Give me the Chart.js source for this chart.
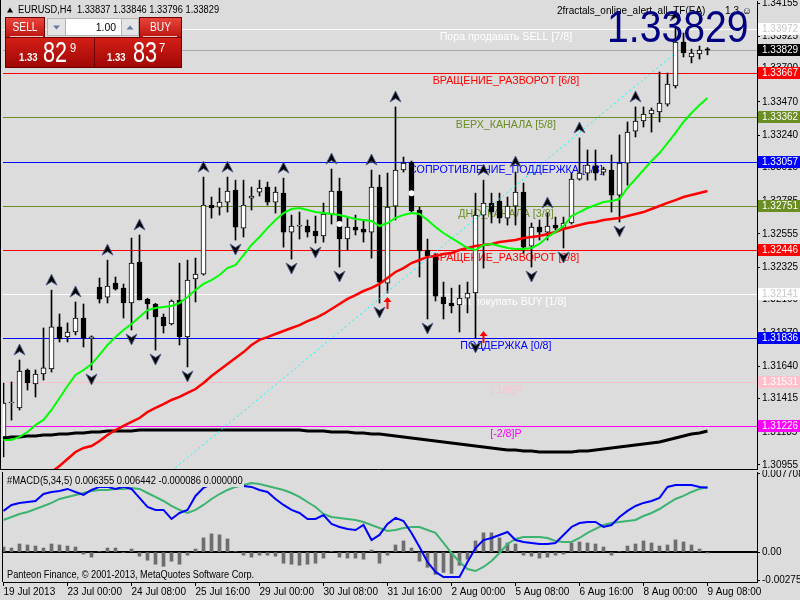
<!DOCTYPE html>
<html lang="ru">
<head>
    <meta charset="UTF-8">
    <meta name="viewport" content="width=device-width, initial-scale=1.0">
    <title>EURUSD,H4</title>
    <style>
      body { margin: 0; background: #dcdcdc; }
      #tela { position: relative; width: 800px; height: 600px; overflow: hidden; background: #dcdcdc; }
      canvas { position: absolute; left: 0; }
    </style>
</head>
<body>
    <div id="tela">
        <canvas id="grafico1" width="800" height="470" style="top:0;width:800px;height:470px;"></canvas>
        <canvas id="grafico2" width="800" height="130" style="top:470px;width:800px;height:130px;"></canvas>
    </div>
    <script src="https://cdn.jsdelivr.net/npm/chart.js"></script>
    <script>
      // eixo do tempo (barras H4)
      const rotulosX = ['19 Jul 2013', '23 Jul 00:00', '24 Jul 08:00', '25 Jul 16:00', '29 Jul 00:00', '30 Jul 08:00',
                        '31 Jul 16:00', '2 Aug 00:00', '5 Aug 08:00', '6 Aug 16:00', '8 Aug 00:00', '9 Aug 08:00'];
      const barrasX = [0, 8, 16, 24, 32, 40, 48, 56, 64, 72, 80, 88];

      // velas
      const abertura = [1.31149,1.31384,1.31350,1.31613,1.31516,1.31585,1.31620,1.31911,1.31842,1.31876,
        1.31973,1.31828,1.32187,1.32118,1.32215,1.32180,1.32077,1.32360,1.32104,1.32070,
        1.31980,1.31932,1.32098,1.31842,1.32243,1.32277,1.32755,1.32741,1.32776,1.32859,
        1.32596,1.32804,1.32845,1.32880,1.32776,1.32838,1.32568,1.32610,1.32610,1.32575,
        1.32541,1.32693,1.32852,1.32520,1.32603,1.32589,1.32568,1.32880,1.32215,1.32748,
        1.32998,1.33053,1.32721,1.32444,1.32409,1.32118,1.32077,1.32063,1.32111,1.32146,
        1.32686,1.32769,1.32783,1.32665,1.32748,1.32845,1.32471,1.32603,1.32568,1.32617,
        1.32596,1.32631,1.32935,1.32977,1.33025,1.32984,1.32998,1.32824,1.33046,1.33268,
        1.33338,1.33386,1.33400,1.33455,1.33580,1.33885,1.33781,1.33802,1.33837];
      const maxima = [1.31523,1.31530,1.31682,1.31620,1.31613,1.31904,1.32166,1.32001,1.31939,1.32084,
        1.32070,1.31849,1.32250,1.32374,1.32257,1.32208,1.32527,1.32548,1.32110,1.32075,
        1.32001,1.32098,1.32353,1.32374,1.32388,1.32949,1.32811,1.32873,1.32949,1.32928,
        1.32928,1.32880,1.32928,1.32915,1.32880,1.32942,1.32686,1.32707,1.32652,1.32679,
        1.32769,1.33005,1.32942,1.32665,1.32686,1.32652,1.32998,1.32963,1.32977,1.33435,
        1.33088,1.33060,1.32741,1.32520,1.32415,1.32222,1.32180,1.32201,1.32222,1.32838,
        1.32928,1.32838,1.32838,1.32811,1.32984,1.32908,1.32631,1.32652,1.32700,1.32672,
        1.32672,1.32977,1.33220,1.33137,1.33137,1.33018,1.33102,1.33241,1.33331,1.33435,
        1.33435,1.33428,1.33677,1.33670,1.33996,1.33947,1.33836,1.33857,1.33846];
      const minima = [1.31010,1.31266,1.31336,1.31474,1.31426,1.31543,1.31599,1.31807,1.31807,1.31856,
        1.31772,1.31613,1.32077,1.32077,1.32166,1.31973,1.31890,1.32098,1.31966,1.31751,
        1.31869,1.31925,1.31786,1.31634,1.32084,1.32270,1.32665,1.32686,1.32707,1.32513,
        1.32534,1.32721,1.32818,1.32755,1.32700,1.32464,1.32381,1.32520,1.32534,1.32492,
        1.32499,1.32624,1.32326,1.32444,1.32548,1.32499,1.32388,1.32077,1.32146,1.32652,
        1.32984,1.32707,1.32257,1.31966,1.32091,1.31966,1.32008,1.31876,1.32008,1.31835,
        1.32319,1.32631,1.32631,1.32617,1.32617,1.32423,1.32326,1.32513,1.32513,1.32582,
        1.32458,1.32624,1.32928,1.32928,1.32928,1.32963,1.32707,1.32638,1.32894,1.33227,
        1.33296,1.33261,1.33331,1.33441,1.33566,1.33781,1.33740,1.33767,1.33796];
      const fechamento = [1.31384,1.31391,1.31606,1.31523,1.31585,1.31627,1.31911,1.31828,1.31876,1.31973,
        1.31835,1.31842,1.32104,1.32194,1.32173,1.32077,1.32353,1.32098,1.32070,1.31980,
        1.31918,1.32091,1.31842,1.32236,1.32277,1.32755,1.32735,1.32776,1.32852,1.32603,
        1.32755,1.32818,1.32873,1.32776,1.32845,1.32568,1.32610,1.32617,1.32568,1.32541,
        1.32693,1.32852,1.32520,1.32603,1.32582,1.32568,1.32880,1.32222,1.32741,1.32998,
        1.33046,1.32714,1.32437,1.32402,1.32125,1.32070,1.32056,1.32111,1.32146,1.32686,
        1.32769,1.32707,1.32665,1.32748,1.32845,1.32464,1.32603,1.32568,1.32610,1.32596,
        1.32631,1.32935,1.32977,1.33032,1.32977,1.33005,1.32824,1.33046,1.33261,1.33338,
        1.33386,1.33414,1.33462,1.33594,1.33885,1.33809,1.33809,1.33829,1.33829];

      // medias
      const mediaVerde = [1.31128,1.31128,1.31149,1.31183,1.31232,1.31267,1.31336,1.31419,1.31502,1.31578,
        1.31613,1.31654,1.31717,1.31786,1.31841,1.31890,1.31931,1.31980,1.32028,1.32042,
        1.32049,1.32056,1.32077,1.32119,1.32167,1.32209,1.32236,1.32271,1.32319,1.32340,
        1.32409,1.32479,1.32534,1.32596,1.32652,1.32700,1.32728,1.32735,1.32721,1.32707,
        1.32700,1.32693,1.32687,1.32673,1.32659,1.32652,1.32645,1.32610,1.32631,1.32666,
        1.32687,1.32700,1.32693,1.32652,1.32603,1.32562,1.32527,1.32493,1.32458,1.32444,
        1.32479,1.32486,1.32472,1.32458,1.32451,1.32451,1.32458,1.32486,1.32534,1.32569,
        1.32610,1.32680,1.32707,1.32735,1.32756,1.32777,1.32783,1.32797,1.32874,1.32936,
        1.32998,1.33061,1.33116,1.33185,1.33255,1.33331,1.33393,1.33448,1.33497];
      const mediaVermelha = [1.30574,1.30643,1.30712,1.30768,1.30816,1.30865,1.30906,1.30948,1.30996,1.31045,
        1.31073,1.31086,1.31121,1.31163,1.31197,1.31225,1.31253,1.31280,1.31322,1.31350,
        1.31377,1.31405,1.31426,1.31454,1.31481,1.31523,1.31571,1.31613,1.31654,1.31696,
        1.31737,1.31786,1.31821,1.31841,1.31862,1.31883,1.31904,1.31924,1.31952,1.31973,
        1.32001,1.32035,1.32070,1.32105,1.32132,1.32160,1.32181,1.32209,1.32250,1.32292,
        1.32319,1.32354,1.32375,1.32396,1.32403,1.32416,1.32423,1.32444,1.32458,1.32472,
        1.32479,1.32486,1.32500,1.32506,1.32513,1.32527,1.32534,1.32541,1.32555,1.32569,
        1.32590,1.32603,1.32617,1.32631,1.32638,1.32652,1.32659,1.32666,1.32680,1.32693,
        1.32707,1.32728,1.32749,1.32770,1.32790,1.32811,1.32825,1.32839,1.32853];
      const mediaPreta = [1.31142,1.31149,1.31149,1.31156,1.31156,1.31163,1.31163,1.31169,1.31169,1.31176,
        1.31176,1.31183,1.31183,1.31190,1.31190,1.31190,1.31190,1.31197,1.31197,1.31197,
        1.31197,1.31197,1.31197,1.31197,1.31197,1.31197,1.31197,1.31197,1.31197,1.31197,
        1.31197,1.31197,1.31197,1.31197,1.31197,1.31197,1.31197,1.31197,1.31190,1.31190,
        1.31190,1.31183,1.31183,1.31183,1.31176,1.31176,1.31169,1.31169,1.31163,1.31156,
        1.31149,1.31142,1.31135,1.31128,1.31121,1.31114,1.31107,1.31100,1.31093,1.31086,
        1.31080,1.31073,1.31066,1.31059,1.31059,1.31052,1.31052,1.31045,1.31045,1.31045,
        1.31045,1.31045,1.31052,1.31052,1.31059,1.31066,1.31073,1.31080,1.31086,1.31093,
        1.31100,1.31107,1.31114,1.31128,1.31142,1.31156,1.31169,1.31176,1.31190];

      // fractais, sinais e objetos
      const fractaisCima = [2, 6, 9, 13, 17, 25, 28, 35, 41, 46, 49, 60, 64, 68, 72, 79, 84];
      const fractaisBaixo = [11, 16, 19, 23, 29, 36, 39, 42, 47, 53, 59, 66, 70, 77];
      const sinaisBarra = [48, 60];
      const sinaisValor = [1.32077, 1.31842];
      const pontosBarra = [42, 51];
      const pontosValor = [1.32624, 1.32838];
      const tendBarra = [21, 84];
      const tendValor = [1.30913, 1.33809];

      // niveis Murrey
      const niveis = [1.33972, 1.33667, 1.33362, 1.33057, 1.32751, 1.32446, 1.32141, 1.31836, 1.31531, 1.31226];
      const nomesNiveis = ['Пора продавать SELL [7/8]', 'ВРАЩЕНИЕ_РАЗВОРОТ [6/8]', 'ВЕРХ_КАНАЛА [5/8]',
        'СОПРОТИВЛЕНИЕ_ПОДДЕРЖКА [4/8]', 'ДНО_КАНАЛА [3/8]', 'ВРАЩЕНИЕ_РАЗВОРОТ [2/8]',
        'Пора покупать BUY [1/8]', 'ПОДДЕРЖКА [0/8]', '[-1/8]P', '[-2/8]P'];
      const coresNiveis = ['#ffffff', '#ff0000', '#6b8e23', '#0000ff', '#6b8e23', '#ff0000', '#ffffff', '#0000ff', '#ffc0cb', '#ff00ff'];
      const bid = 1.33829;
      const ask = 1.33837;

      const valoresY = [1.34155, 1.33925, 1.33700, 1.33470, 1.33240, 1.33015, 1.32785, 1.32555,
                        1.32325, 1.32100, 1.31870, 1.31640, 1.31415, 1.31185, 1.30955];
      const rotulosY = valoresY.map(v => v.toFixed(5));

      // MACD
      const macdPrincipal = [0.00406,0.00465,0.00485,0.00494,0.00504,0.00573,0.00593,0.00603,0.00623,0.00593,
        0.00564,0.00613,0.00643,0.00643,0.00623,0.00643,0.00623,0.00534,0.00445,0.00416,
        0.00416,0.00327,0.00386,0.00416,0.00554,0.00633,0.00672,0.00692,0.00682,0.00652,
        0.00652,0.00643,0.00613,0.00593,0.00524,0.00465,0.00416,0.00386,0.00327,0.00327,
        0.00366,0.00277,0.00248,0.00228,0.00218,0.00267,0.00119,0.00169,0.00277,0.00337,
        0.00307,0.00189,0.00050,-0.00098,-0.00196,-0.00246,-0.00246,-0.00246,-0.00098,0.00040,
        0.00119,0.00139,0.00169,0.00198,0.00119,0.00100,0.00090,0.00080,0.00080,0.00090,
        0.00169,0.00248,0.00287,0.00297,0.00297,0.00248,0.00267,0.00346,0.00406,0.00455,
        0.00485,0.00504,0.00534,0.00643,0.00662,0.00662,0.00662,0.00643,0.006355];
      const macdSinal = [0.00317,0.00346,0.00376,0.00396,0.00425,0.00455,0.00485,0.00524,0.00544,0.00564,
        0.00583,0.00603,0.00613,0.00613,0.00623,0.00623,0.00633,0.00623,0.00583,0.00544,
        0.00504,0.00455,0.00416,0.00386,0.00416,0.00465,0.00524,0.00573,0.00613,0.00643,
        0.00662,0.00682,0.00672,0.00652,0.00633,0.00613,0.00583,0.00544,0.00494,0.00445,
        0.00376,0.00346,0.00337,0.00327,0.00317,0.00297,0.00267,0.00238,0.00208,0.00218,
        0.00238,0.00248,0.00248,0.00218,0.00189,0.00090,-0.00009,-0.00098,-0.00167,-0.00187,
        -0.00147,-0.00088,-0.00009,0.00080,0.00129,0.00149,0.00149,0.00149,0.00139,0.00110,
        0.00100,0.00100,0.00139,0.00189,0.00228,0.00267,0.00287,0.00297,0.00307,0.00317,
        0.00356,0.00386,0.00425,0.00475,0.00524,0.00554,0.00593,0.00623,0.006442];
      const macdHist = [0.0005,0.0004,0.0008,0.0007,0.0006,0.0004,0.0008,0.0007,0.0006,0.0005,
        -0.0002,-0.0005,0.00005,0.0004,0.0004,-0.00005,0.0003,-0.0004,-0.0008,-0.0012,
        -0.0014,-0.0009,-0.0012,-0.0003,0.0003,0.0014,0.0018,0.0017,0.0013,0.00005,
        -0.0003,-0.0005,-0.0003,-0.0003,-0.0004,-0.0011,-0.0012,-0.0013,-0.0012,-0.0011,
        -0.0006,0.00005,-0.0005,-0.0006,-0.0006,-0.0007,0.0002,-0.0011,-0.0003,0.0007,
        0.0011,0.0004,-0.0009,-0.0015,-0.0022,-0.0020,-0.0021,-0.0013,-0.0007,0.0011,
        0.0019,0.0019,0.0014,0.0009,0.0008,-0.0003,-0.0004,-0.0006,-0.0005,-0.0003,
        -0.0002,0.0009,0.0010,0.0009,0.0008,0.0005,-0.0003,0.00005,0.0006,0.0008,
        0.0011,0.0009,0.0006,0.0007,0.0012,0.0010,0.0007,0.0003,-0.000086];
      const valoresMacd = [0.007708, 0, -0.002753];
      const rotulosMacd = ['0.007708', '0.00', '-0.002753'];

      // faixas dos eixos
      const xMin = -0.0625, xMax = 94.1875;
      const yMin = 1.30927, yMax = 1.34169;
      const macdMin = -0.00295, macdMax = 0.00790;

      const fonte = '"Liberation Sans", Arial, sans-serif';
      Chart.defaults.font.family = fonte;
      Chart.defaults.font.size = 10;
      Chart.defaults.color = '#000';

      const idx = abertura.map((_, i) => i);
      const ult = idx.length - 1;

      function texto(ctx, s, x, y, f, cor, alinhar, escala, base) {
        ctx.save();
        ctx.font = f;
        ctx.fillStyle = cor;
        ctx.textAlign = alinhar || 'left';
        ctx.textBaseline = base || 'middle';
        ctx.translate(x, y);
        ctx.scale(escala || 1, 1);
        ctx.fillText(s, 0, 0);
        ctx.restore();
      }

      function seta(ctx, x, y, cima) {
        const d = cima ? 1 : -1;
        ctx.beginPath();
        ctx.moveTo(x, y - 6 * d);
        ctx.lineTo(x + 5.5, y + 5 * d);
        ctx.lineTo(x, y + 1.5 * d);
        ctx.lineTo(x - 5.5, y + 5 * d);
        ctx.closePath();
        ctx.fillStyle = '#000';
        ctx.fill();
        ctx.strokeStyle = 'rgba(80,95,140,0.9)';
        ctx.lineWidth = 1;
        ctx.stroke();
      }

      function painel(ctx) {
        const grad = (y0, h, c1, c2) => {
          const g = ctx.createLinearGradient(0, y0, 0, y0 + h);
          g.addColorStop(0, c1); g.addColorStop(1, c2);
          return g;
        };
        ctx.save();
        ctx.strokeStyle = '#6a0000';
        ctx.lineWidth = 1;
        // botoes
        [[6, 18, 38, 20], [140, 18, 41, 20]].forEach(([bx, by, bw, bh]) => {
          ctx.fillStyle = grad(by, bh, '#e8443c', '#bd130e');
          ctx.fillRect(bx, by, bw, bh);
          ctx.strokeRect(bx - 0.5, by - 0.5, bw + 1, bh + 1);
        });
        // caixas de preco
        [[6, 38, 88, 29], [95, 38, 86, 29]].forEach(([bx, by, bw, bh]) => {
          ctx.fillStyle = grad(by, bh, '#d41e16', '#a00805');
          ctx.fillRect(bx, by, bw, bh);
          ctx.strokeRect(bx - 0.5, by - 0.5, bw + 1, bh + 1);
        });
        ctx.strokeStyle = 'rgba(255,255,255,0.75)';
        ctx.beginPath();
        ctx.moveTo(10, 36.5); ctx.lineTo(43, 36.5);
        ctx.moveTo(143, 36.5); ctx.lineTo(177, 36.5);
        ctx.stroke();
        // lote
        ctx.fillStyle = '#b4b4b4'; ctx.fillRect(47, 18, 92, 18);
        ctx.fillStyle = '#e4e4e4'; ctx.fillRect(48, 19, 17, 16); ctx.fillRect(122, 19, 16, 16);
        ctx.fillStyle = '#ffffff'; ctx.fillRect(66, 19, 55, 16);
        ctx.fillStyle = '#6878a4';
        ctx.beginPath(); ctx.moveTo(53, 25.5); ctx.lineTo(60, 25.5); ctx.lineTo(56.5, 29.5); ctx.closePath(); ctx.fill();
        ctx.beginPath(); ctx.moveTo(126.5, 29.5); ctx.lineTo(133.5, 29.5); ctx.lineTo(130, 25.5); ctx.closePath(); ctx.fill();
        texto(ctx, '1.00', 116, 27.5, '11px ' + fonte, '#000', 'right', 0.95);
        texto(ctx, 'SELL', 25, 28, '12px ' + fonte, '#fff', 'center', 0.85);
        texto(ctx, 'BUY', 160.5, 28, '12px ' + fonte, '#fff', 'center', 0.85);
        // precos
        const pb = bid.toFixed(5), pa = ask.toFixed(5);
        [[pb, 19, 43, 70], [pa, 107, 133, 159]].forEach(([p, x1, x2, x3]) => {
          texto(ctx, p.slice(0, 4), x1, 61, 'bold 10px ' + fonte, '#fff', 'left', 0.95, 'alphabetic');
          texto(ctx, p.slice(4, 6), x2, 62, '30px ' + fonte, '#fff', 'left', 0.72, 'alphabetic');
          texto(ctx, p.slice(6), x3, 52, '13px ' + fonte, '#fff', 'left', 0.85, 'alphabetic');
        });
        ctx.restore();
      }

      const desenhosPrincipal = {
        id: 'desenhosPrincipal',
        beforeDatasetsDraw(chart) {
          const { ctx, chartArea: a, scales: { x, y } } = chart;
          ctx.save();
          ctx.lineWidth = 1;
          niveis.forEach((v, k) => {
            const py = Math.round(y.getPixelForValue(v)) + 0.5;
            ctx.strokeStyle = coresNiveis[k];
            ctx.beginPath(); ctx.moveTo(a.left, py); ctx.lineTo(a.right, py); ctx.stroke();
          });
          const pb = Math.round(y.getPixelForValue(bid)) + 0.5;
          ctx.strokeStyle = '#a8a8a8';
          ctx.beginPath(); ctx.moveTo(a.left, pb); ctx.lineTo(a.right, pb); ctx.stroke();
          const lx = x.getPixelForValue(62.8);
          niveis.forEach((v, k) => {
            const py = Math.round(y.getPixelForValue(v));
            texto(ctx, nomesNiveis[k], lx, py + 8, '11px ' + fonte, coresNiveis[k], 'center', 0.97);
          });
          ctx.restore();
        },
        afterDatasetsDraw(chart) {
          const { ctx, scales: { x, y } } = chart;
          ctx.save();
          fractaisCima.forEach(i => seta(ctx, x.getPixelForValue(i), y.getPixelForValue(maxima[i]) - 10, true));
          fractaisBaixo.forEach(i => seta(ctx, x.getPixelForValue(i), y.getPixelForValue(minima[i]) + 9, false));
          // sinais vermelhos
          sinaisBarra.forEach((b, k) => {
            const px = x.getPixelForValue(b), py = y.getPixelForValue(sinaisValor[k]);
            ctx.strokeStyle = '#ff0000'; ctx.fillStyle = '#ff0000'; ctx.lineWidth = 2;
            ctx.beginPath(); ctx.moveTo(px, py + 6); ctx.lineTo(px, py - 2); ctx.stroke();
            ctx.beginPath(); ctx.moveTo(px - 4, py - 1); ctx.lineTo(px, py - 6); ctx.lineTo(px + 4, py - 1); ctx.closePath(); ctx.fill();
          });
          pontosBarra.forEach((b, k) => {
            ctx.fillStyle = '#ffffff';
            ctx.beginPath();
            ctx.arc(x.getPixelForValue(b), y.getPixelForValue(pontosValor[k]), 3, 0, Math.PI * 2);
            ctx.fill();
          });
          ctx.restore();
        },
        afterDraw(chart) {
          const { ctx, chartArea: a, scales: { y } } = chart;
          ctx.save();
          // etiquetas de preco no eixo
          const caixa = (v, fundo, cor) => {
            const py = Math.round(y.getPixelForValue(v));
            ctx.fillStyle = fundo;
            ctx.fillRect(a.right + 1, py - 6, 42, 12);
            texto(ctx, v.toFixed(5), a.right + 5, py + 0.5, '10px ' + fonte, cor);
          };
          niveis.forEach((v, k) => {
            const c = coresNiveis[k];
            caixa(v, c, c === '#ffffff' ? '#c8c8c8' : '#ffffff');
          });
          caixa(bid, '#000000', '#ffffff');
          // bordas
          ctx.strokeStyle = '#000'; ctx.lineWidth = 1;
          ctx.beginPath();
          ctx.moveTo(0.5, 0); ctx.lineTo(0.5, a.bottom + 1);
          ctx.moveTo(0, a.bottom + 0.5); ctx.lineTo(a.right, a.bottom + 0.5);
          ctx.stroke();
          // cabecalho
          ctx.fillStyle = '#000';
          ctx.beginPath(); ctx.moveTo(7, 12.5); ctx.lineTo(10, 7.5); ctx.lineTo(13, 12.5); ctx.closePath(); ctx.fill();
          const ohlc = [abertura[ult], maxima[ult], minima[ult], fechamento[ult]].map(v => v.toFixed(5)).join(' ');
          texto(ctx, 'EURUSD,H4  ' + ohlc, 18, 10.5, '10px ' + fonte, '#000', 'left', 0.93);
          texto(ctx, '2fractals_online_alert_all_TF(EA)', 557, 11, '10px ' + fonte, '#000');
          texto(ctx, '1.3 ☺', 752, 11, '10px ' + fonte + ', "DejaVu Sans"', '#000', 'right');
          texto(ctx, fechamento[ult].toFixed(5), 607, 42, '45px ' + fonte, '#000080', 'left', 0.87, 'alphabetic');
          painel(ctx);
          ctx.restore();
        }
      };

      const grafico1 = new Chart(document.getElementById('grafico1'), {
        type: 'bar',
        data: {
          datasets: [
            { type: 'bar', data: idx.map(i => ({ x: i, y: [minima[i], maxima[i]] })), backgroundColor: '#000',
              barThickness: 1, grouped: false, order: 10 },
            { type: 'bar', data: idx.map(i => ({ x: i, y: [abertura[i], fechamento[i]] })),
              backgroundColor: idx.map(i => fechamento[i] >= abertura[i] ? '#ffffff' : '#000000'),
              borderColor: '#000', borderWidth: 1, borderSkipped: false, barThickness: 5, grouped: false,
              minBarLength: 1, order: 9 },
            { type: 'line', data: idx.map(i => ({ x: i, y: mediaPreta[i] })), borderColor: '#000',
              borderWidth: 3, pointRadius: 0, order: 6 },
            { type: 'line', data: idx.map(i => ({ x: i, y: mediaVermelha[i] })), borderColor: '#ff0000',
              borderWidth: 2.5, pointRadius: 0, order: 5 },
            { type: 'line', data: idx.map(i => ({ x: i, y: mediaVerde[i] })), borderColor: '#00ff00',
              borderWidth: 2, pointRadius: 0, order: 4 },
            { type: 'line', data: tendBarra.map((b, k) => ({ x: b, y: tendValor[k] })), borderColor: '#00ffff',
              borderWidth: 1, borderDash: [2, 3], pointRadius: 0, order: 3 }
          ]
        },
        options: {
          responsive: false,
          animation: false,
          devicePixelRatio: 1,
          layout: { padding: { left: 3, top: 1, right: 0, bottom: 1 }, autoPadding: false },
          plugins: { legend: { display: false }, tooltip: { enabled: false } },
          scales: {
            x: { type: 'linear', min: xMin, max: xMax, offset: false, display: false },
            y: {
              position: 'right', min: yMin, max: yMax,
              afterBuildTicks: s => { s.ticks = valoresY.map(v => ({ value: v })); },
              afterFit: s => { s.width = 43; s.paddingTop = 0; s.paddingBottom = 0; },
              ticks: { color: '#000', padding: 2, autoSkip: false, callback: (v, k) => rotulosY[k] },
              grid: { drawOnChartArea: false, tickLength: 3, color: '#000' },
              border: { color: '#000' }
            }
          }
        },
        plugins: [desenhosPrincipal]
      });

      const desenhosMacd = {
        id: 'desenhosMacd',
        beforeDatasetsDraw(chart) {
          const { ctx, chartArea: a, scales: { y } } = chart;
          const pz = Math.round(y.getPixelForValue(0));
          ctx.save();
          ctx.fillStyle = '#000';
          ctx.fillRect(a.left, pz - 1, a.right - a.left, 2);
          ctx.restore();
        },
        afterDraw(chart) {
          const { ctx, chartArea: a } = chart;
          ctx.save();
          ctx.fillStyle = '#dcdcdc';
          ctx.fillRect(5, 5, 239, 12);
          const cab = '#MACD(5,34,5) ' + macdPrincipal[ult].toFixed(6) + ' ' + macdSinal[ult].toFixed(6) + ' ' +
                      macdHist[ult].toFixed(6) + ' 0.000000';
          texto(ctx, cab, 7, 11, '10px ' + fonte, '#000', 'left', 0.94);
          texto(ctx, 'Panteon Finance, © 2001-2013, MetaQuotes Software Corp.', 7, 105, '10px ' + fonte, '#000', 'left', 0.92);
          ctx.strokeStyle = '#000'; ctx.lineWidth = 1;
          ctx.beginPath(); ctx.moveTo(2.5, a.top); ctx.lineTo(2.5, a.bottom); ctx.stroke();
          ctx.restore();
        }
      };

      const grafico2 = new Chart(document.getElementById('grafico2'), {
        type: 'bar',
        data: {
          datasets: [
            { type: 'bar', data: idx.map(i => ({ x: i, y: macdHist[i] })), backgroundColor: '#6e6e6e',
              barThickness: 3, grouped: false, order: 3 },
            { type: 'line', data: idx.map(i => ({ x: i, y: macdSinal[i] })), borderColor: '#3cb371',
              borderWidth: 2, pointRadius: 0, order: 2 },
            { type: 'line', data: idx.map(i => ({ x: i, y: macdPrincipal[i] })), borderColor: '#0000ff',
              borderWidth: 2, pointRadius: 0, order: 1 }
          ]
        },
        options: {
          responsive: false,
          animation: false,
          devicePixelRatio: 1,
          layout: { padding: { left: 3, top: 2, right: 0, bottom: 0 }, autoPadding: false },
          plugins: { legend: { display: false }, tooltip: { enabled: false } },
          scales: {
            x: {
              type: 'linear', min: xMin, max: xMax, offset: false,
              afterBuildTicks: s => { s.ticks = barrasX.map(v => ({ value: v })); },
              afterFit: s => { s.height = 18; s.paddingLeft = 0; s.paddingRight = 0; },
              ticks: { color: '#000', align: 'start', maxRotation: 0, autoSkip: false, padding: 0,
                       callback: (v, k) => rotulosX[k] },
              grid: { drawOnChartArea: false, tickLength: 4, color: '#000', offset: false },
              border: { color: '#000' }
            },
            y: {
              position: 'right', min: macdMin, max: macdMax,
              afterBuildTicks: s => { s.ticks = valoresMacd.map(v => ({ value: v })); },
              afterFit: s => { s.width = 43; s.paddingTop = 0; s.paddingBottom = 0; },
              ticks: { color: '#000', padding: 2, autoSkip: false, callback: (v, k) => rotulosMacd[k] },
              grid: { drawOnChartArea: false, tickLength: 3, color: '#000' },
              border: { color: '#000' }
            }
          }
        },
        plugins: [desenhosMacd]
      });
    </script>
</body>
</html>
